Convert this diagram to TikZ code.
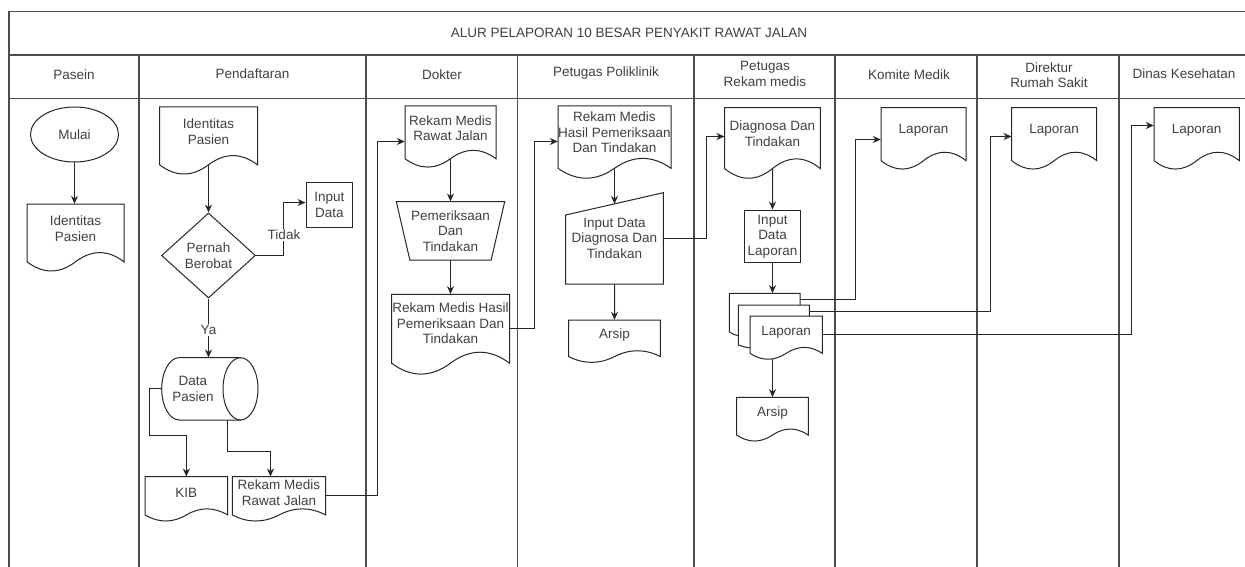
\documentclass[tikz,border=0pt]{standalone}
\usepackage{fontspec}
\setmainfont{Liberation Sans}
\usetikzlibrary{shapes.geometric,arrows.meta,calc}
\tikzset{
  txt/.style={font=\fontsize{13.5pt}{15.5pt}\selectfont, text=black!75, align=center, inner sep=0pt},
  box/.style={txt, rectangle, draw=none},
  shapeline/.style={draw=black!85, line width=1pt, fill=white},
  rectbox/.style={txt, rectangle, draw=black!85, line width=1pt, fill=white},
  arr/.style={draw=black!85, line width=1pt, -{Stealth[length=8pt,width=7pt]}},
  conn/.style={draw=black!85, line width=1pt},
  lane/.style={draw=black!70, line width=1.3pt},
  lbl/.style={txt, fill=white, inner sep=1pt},
}
% document shape: name, x1, y1, width, height, text
\newcommand{\docshape}[6]{%
  \begin{scope}[shift={(#2,#3)}]
    \pgfmathsetmacro{\docW}{#4}%
    \pgfmathsetmacro{\docH}{#5}%
    \pgfmathsetmacro{\docHb}{0.85*#5}%
    \draw[shapeline] (0,0) -- (\docW,0) -- (\docW,0.85*\docH)
      .. controls (0.8333*\docW,0.67*\docH) and (0.6667*\docW,0.67*\docH) .. (0.5*\docW,0.85*\docH)
      .. controls (0.3333*\docW,1.03*\docH) and (0.1667*\docW,1.03*\docH) .. (0,0.85*\docH) -- cycle;
    \node[box, minimum width=\docW pt, minimum height=\docHb pt] (#1) at (0.5*\docW,0.425*\docH) {};
    \node[txt] (#1-t) at (0.5*\docW,0.36*\docH) {#6};
  \end{scope}}
\begin{document}
\begin{tikzpicture}[x=1pt,y=-1pt]
\useasboundingbox (0,0) rectangle (1245,567);
\clip (0,0) rectangle (1245,567);
\fill[white] (0,0) rectangle (1245,567);

% ---------- swimlanes ----------
\draw[lane] (9,600) -- (9,11.5) -- (1249,11.5) -- (1249,600);
\draw[lane] (9,55) -- (1249,55);
\draw[lane] (9,98.5) -- (1249,98.5);
\foreach \x in {139,366,517.5,694,835,977,1119} \draw[lane] (\x,55) -- (\x,600);

\node[txt] (title) at (629,33) {ALUR PELAPORAN 10 BESAR PENYAKIT RAWAT JALAN};
\node[txt] (hPasein) at (74,75) {Pasein};
\node[txt] (hDaftar) at (252.5,74) {Pendaftaran};
\node[txt] (hDokter) at (442,75) {Dokter};
\node[txt] (hPoli) at (606,73) {Petugas Poliklinik};
\node[txt] (hRekam) at (765,74) {Petugas\\Rekam medis};
\node[txt] (hKomite) at (909,75) {Komite Medik};
\node[txt] (hDir) at (1049,75) {Direktur\\Rumah Sakit};
\node[txt] (hDinas) at (1184,73.5) {Dinas Kesehatan};

% ---------- Pasein ----------
\node[txt, ellipse, draw=black!85, line width=1pt, fill=white, minimum width=88pt, minimum height=55pt] (mulai) at (74.5,134.5) {Mulai};
\docshape{idP}{27}{204}{97}{68}{Identitas\\Pasien}

% ---------- Pendaftaran ----------
\docshape{idD}{159.5}{107}{98}{68}{Identitas\\Pasien}
\node[txt, diamond, draw=black!85, line width=1pt, fill=white, minimum width=94pt, minimum height=85pt] (pernah) at (208.5,255.5) {Pernah\\Berobat};
\node[rectbox, minimum width=46.7pt, minimum height=44.3pt] (inp) at (329.35,204.85) {Input\\Data};
% cylinder (Data Pasien)
\draw[shapeline] (240.5,357.7) -- (179.2,357.7) arc[start angle=270,end angle=90,x radius=17.5,y radius=31.15] -- (240.5,420) -- cycle;
\draw[shapeline] (240.5,388.85) ellipse [x radius=17.5, y radius=31.15];
\node[box, minimum width=96.3pt, minimum height=62.3pt] (cyl) at (209.85,388.85) {};
\node[txt] (cyl-t) at (193,389) {Data\\Pasien};
\docshape{kib}{145}{476.7}{82.7}{45}{KIB}
\docshape{rmP}{232.3}{476.7}{93.4}{45}{Rekam Medis\\Rawat Jalan}

% ---------- Dokter ----------
\docshape{rmD}{405}{106}{91}{62}{Rekam Medis\\Rawat Jalan}
\draw[shapeline] (396.3,201.7) -- (504.7,201.7) -- (491.15,260) -- (409.85,260) -- cycle;
\node[box, minimum width=108.4pt, minimum height=58.3pt] (trap) at (450.5,230.85) {Pemeriksaan\\Dan\\Tindakan};
\docshape{rmhD}{391.5}{294.3}{118}{81}{Rekam Medis Hasil\\Pemeriksaan Dan\\Tindakan}

% ---------- Petugas Poliklinik ----------
\docshape{rmhPo}{558}{106}{113}{73.3}{Rekam Medis\\Hasil Pemeriksaan\\Dan Tindakan}
\draw[shapeline] (565.7,215) -- (663.3,192.7) -- (663.3,284) -- (565.7,284) -- cycle;
\node[box, minimum width=97.6pt, minimum height=91.3pt] (mi) at (614.5,238.35) {Input Data\\Diagnosa Dan\\Tindakan};
\coordinate (mitop) at (614.5,203.85);
\docshape{ar1}{568.65}{320}{91.7}{43}{Arsip}

% ---------- Petugas Rekam medis ----------
\docshape{diag}{724.65}{107.7}{95.7}{71.6}{Diagnosa Dan\\Tindakan}
\node[rectbox, minimum width=56pt, minimum height=52.7pt] (idl) at (772.5,236.35) {Input\\Data\\Laporan};
% multi-document
\draw[conn] (738.3,335.5) .. controls (734,334.8) .. (729.3,331.7) -- (729.3,293.3) -- (800,293.3) -- (800,305);
\draw[conn] (750,348) .. controls (745.5,347.3) .. (738.3,345) -- (738.3,305) -- (809.3,305) -- (809.3,316);
\docshape{mdf}{750}{316}{72.3}{43.9}{Laporan}
\node[box, minimum width=93pt, minimum height=65.7pt] (md) at (775.8,326.15) {};
\coordinate (ex1) at (800,299.5);
\coordinate (ex2) at (809.3,311.5);
\docshape{ar2}{736.7}{397.3}{71.6}{44.4}{Arsip}

% ---------- Komite / Direktur / Dinas ----------
\docshape{lapK}{881}{107.7}{85}{62.3}{Laporan}
\docshape{lapR}{1011.7}{107.7}{85}{62.3}{Laporan}
\docshape{lapN}{1154}{107.7}{85.3}{62.3}{Laporan}

% ---------- bend points ----------
\coordinate (c1) at (149.5,435.5);
\coordinate (c2) at (227.5,451.5);
\coordinate (c3) at (270.5,451.5);
\coordinate (c4) at (283.5,202.5);
\coordinate (c5) at (377.5,141.5);
\coordinate (c6) at (534.5,141.5);
\coordinate (c7) at (706.5,136.5);
\coordinate (c8) at (855.5,139.5);
\coordinate (c9) at (990.5,136.5);
\coordinate (c10) at (1131.5,125.5);

% ---------- connectors ----------
\draw[arr] (mulai.south) -- (mulai.south |- idP.north);
\draw[arr] (idD.south) -- (pernah.north);
\draw[arr] (pernah.east) -| (c4) -- (c4 -| inp.west);
\draw[arr] (pernah.south) -- (pernah.south |- cyl.north);
\draw[arr] (cyl.west) -| (c1) -| (kib.north);
\draw[arr] (c2 |- cyl.south) -- (c2) -- (c3) -- (c3 |- rmP.north);
\draw[arr] (rmP.east) -| (c5) -- (c5 -| rmD.west);
\draw[arr] (rmD.south) -- (trap.north);
\draw[arr] (trap.south) -- (rmhD.north);
\draw[arr] (rmhD.east) -| (c6) -- (c6 -| rmhPo.west);
\draw[arr] (rmhPo.south) -- (mitop);
\draw[arr] (mi.east) -| (c7) -- (c7 -| diag.west);
\draw[arr] (mi.south) -- (ar1.north);
\draw[arr] (diag.south) -- (idl.north);
\draw[arr] (idl.south) -- (idl.south |- md.north);
\draw[arr] (md.south -| ar2.north) -- (ar2.north);
\draw[arr] (ex1) -| (c8) -- (c8 -| lapK.west);
\draw[arr] (ex2) -| (c9) -- (c9 -| lapR.west);
\draw[arr] (mdf.east) -| (c10) -- (c10 -| lapN.west);

% ---------- labels ----------
\node[lbl] (tidak) at (284,235) {Tidak};
\node[lbl] (ya) at (208.5,330) {Ya};
\end{tikzpicture}
\end{document}
